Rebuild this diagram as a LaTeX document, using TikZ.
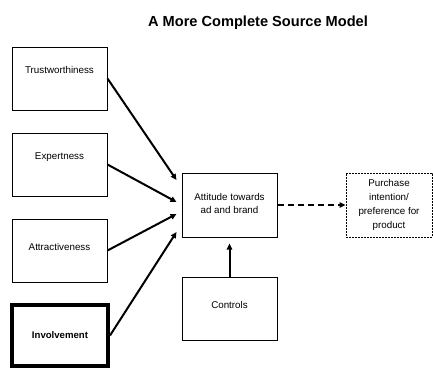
\documentclass[tikz,border=0pt]{standalone}
\usepackage{fontspec}
\setmainfont{Liberation Sans}
\usetikzlibrary{arrows.meta}
\begin{document}
\begin{tikzpicture}[x=1pt,y=-1pt,
  box/.style={draw=black,line width=1pt,minimum width=95pt,minimum height=63pt,inner sep=0pt},
  lbl/.style={font=\fontsize{9.8}{13}\selectfont,align=center,inner sep=0pt},
  arr/.style={line width=2pt,-{Triangle[length=6pt,width=5.5pt]}},
  titlestyle/.style={font=\fontsize{14.6}{16}\selectfont\bfseries,inner sep=0pt}]
\useasboundingbox (0,0) rectangle (433,368);
\node[titlestyle] (title) at (258,23) {A More Complete Source Model};
\node[box] (trust) at (59.5,78.5) {};
\node[lbl] (trustl) at ([yshift=8.5pt]trust.center) {Trustworthiness};
\node[box] (expert) at (59.5,164.5) {};
\node[lbl] (expertl) at ([yshift=7.5pt]expert.center) {Expertness};
\node[box] (attract) at (59.5,250.5) {};
\node[lbl] (attractl) at ([yshift=3.5pt]attract.center) {Attractiveness};
\node[box,line width=4pt,minimum width=96pt,minimum height=61pt] (invol) at (60,335.5) {};
\node[lbl,font=\fontsize{9.6}{13}\selectfont\bfseries] (involl) at (invol.center) {Involvement};
\node[box,minimum height=64pt] (att) at (229.5,205) {};
\node[lbl] (attl) at ([yshift=2pt]att.center) {Attitude towards\\ad and brand};
\node[box,dashed,dash pattern=on 2pt off 1pt,minimum width=86pt,minimum height=64pt] (purch) at (389,205) {};
\node[lbl,font=\fontsize{9.8}{13.8}\selectfont] (purchl) at (purch.center) {Purchase\\intention/\\preference for\\product};
\node[box] (ctrl) at (229.5,308.5) {};
\node[lbl] (ctrll) at ([yshift=3.5pt]ctrl.center) {Controls};
\draw[arr] (trust.east) -- ([xshift=-5pt,yshift=25pt]att.west);
\draw[arr] (expert.east) -- ([xshift=-5pt,yshift=3pt]att.west);
\draw[arr] (attract.east) -- ([xshift=-5pt,yshift=-9pt]att.west);
\draw[arr] (invol.east) -- ([xshift=-5pt,yshift=-27pt]att.west);
\draw[arr] (ctrl.north) -- ([yshift=-6pt]att.south);
\draw[arr,dash pattern=on 6pt off 4pt] (att.east) -- (purch.west);
\end{tikzpicture}
\end{document}
